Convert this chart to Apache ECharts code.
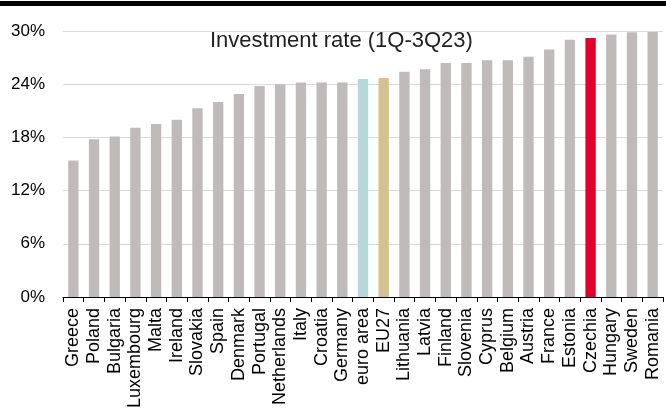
<!DOCTYPE html>
<html>
<head>
<meta charset="utf-8">
<script src="https://cdn.jsdelivr.net/npm/echarts@6/dist/echarts.min.js"></script>
<style>
  html, body { margin: 0; padding: 0; background: #fff; }
  #chart { width: 666px; height: 412px; }
</style>
</head>
<body>
<div id="chart"></div>
<script>
// Investment rate by country, 1Q-3Q 2023 (% of GDP)
const countries = [
  'Greece', 'Poland', 'Bulgaria', 'Luxembourg', 'Malta', 'Ireland', 'Slovakia',
  'Spain', 'Denmark', 'Portugal', 'Netherlands', 'Italy', 'Croatia', 'Germany',
  'euro area', 'EU27', 'Lithuania', 'Latvia', 'Finland', 'Slovenia', 'Cyprus',
  'Belgium', 'Austria', 'France', 'Estonia', 'Czechia', 'Hungary', 'Sweden', 'Romania'
];
const investmentRate = [
  15.4, 17.8, 18.1, 19.1, 19.5, 20.0, 21.3,
  22.0, 22.9, 23.8, 24.0, 24.2, 24.2, 24.2,
  24.6, 24.7, 25.4, 25.7, 26.4, 26.4, 26.7,
  26.7, 27.1, 27.9, 29.0, 29.2, 29.6, 29.85, 29.9
];
const yTicks = [0, 6, 12, 18, 24, 30];

const baseColor = '#bfbbbb';
const highlight = { 'euro area': '#b7d7da', 'EU27': '#d6c291', 'Czechia': '#e4002b' };

const chart = echarts.init(document.getElementById('chart'), null, { renderer: 'canvas' });
const font = 'Liberation Sans, Arial, sans-serif';

chart.setOption({
  animation: false,
  grid: { left: 63, right: 3, top: 31, bottom: 115, containLabel: false },
  graphic: [
    { type: 'rect', left: 0, top: 1, shape: { width: 666, height: 5 }, style: { fill: '#000' } },
    { type: 'text', left: 210, top: 30,
      style: { text: 'Investment rate (1Q-3Q23)', font: '22px ' + font, fill: '#222' } }
  ],
  xAxis: {
    type: 'category',
    data: countries,
    axisLine: { lineStyle: { color: '#000', width: 1 } },
    axisTick: { show: true, length: 5, alignWithLabel: false, lineStyle: { color: '#000' } },
    axisLabel: { interval: 0, rotate: 90, margin: 11, fontSize: 18, fontFamily: font, color: '#000' }
  },
  yAxis: {
    type: 'value',
    min: yTicks[0],
    max: yTicks[yTicks.length - 1],
    interval: yTicks[1] - yTicks[0],
    axisLine: { show: false },
    axisTick: { show: false },
    splitLine: { lineStyle: { color: '#d9d9d9', width: 1 } },
    axisLabel: { formatter: '{value}%', margin: 18, fontSize: 17, fontFamily: font, color: '#000' }
  },
  series: [{
    type: 'bar',
    barWidth: '50%',
    data: investmentRate.map((v, i) => ({
      value: v,
      itemStyle: { color: highlight[countries[i]] || baseColor }
    }))
  }]
});
</script>
</body>
</html>
